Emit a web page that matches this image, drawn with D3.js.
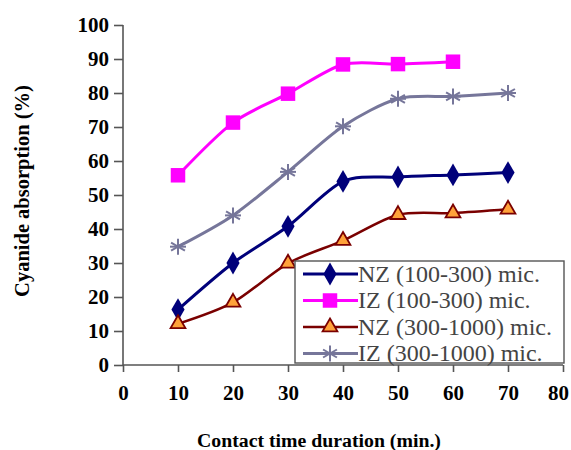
<!DOCTYPE html>
<html>
<head>
<meta charset="utf-8">
<script src="https://cdn.jsdelivr.net/npm/d3@7"></script>
<style>
  body { margin: 0; background: #fff; }
  svg { display: block; }
</style>
</head>
<body>
<svg id="chart" width="571" height="450"></svg>
<script>
// contact time (min.)
var times = [10, 20, 30, 40, 50, 60, 70];
var xTicks = [0, 10, 20, 30, 40, 50, 60, 70, 80];
var yTicks = [0, 10, 20, 30, 40, 50, 60, 70, 80, 90, 100];

var seriesNames = ['NZ (100-300) mic.', 'IZ (100-300) mic.', 'NZ (300-1000) mic.', 'IZ (300-1000) mic.'];
var nzFine = [16.3, 30, 40.8, 54, 55.3, 55.9, 56.6];
var izFine = [55.8, 71.3, 79.8, 88.4, 88.5, 89.2];
var nzCoarse = [12.1, 18.4, 29.9, 36.6, 44.2, 44.7, 45.8];
var izCoarse = [34.8, 44, 56.8, 70.2, 78.3, 79, 80];

var FONT = '"Liberation Serif", "DejaVu Serif", serif';
var W = 571, H = 450;
var margin = { left: 123, top: 25, right: 8, bottom: 85 };

var svg = d3.select('#chart');

var x = d3.scaleLinear().domain([0, 80]).range([margin.left, W - margin.right]);
var y = d3.scaleLinear().domain([0, 100]).range([H - margin.bottom, margin.top]);

var styles = [
  { color: '#00007a', fill: '#00007a', marker: 'diamond', size: 150, width: 3 },
  { color: '#ff00ff', fill: '#ff00ff', marker: 'square', size: 210, width: 3 },
  { color: '#7a0000', fill: '#ffa23a', marker: 'triangle', size: 95, width: 2.5 },
  { color: '#76769a', fill: 'none', marker: 'star', size: 8, width: 3 }
];
var values = [nzFine, izFine, nzCoarse, izCoarse];

// axes
var xAxis = svg.append('g')
  .attr('transform', 'translate(0,' + y(0) + ')')
  .call(d3.axisBottom(x).tickValues(xTicks).tickSize(7).tickPadding(10));
var yAxis = svg.append('g')
  .attr('transform', 'translate(' + x(0) + ',0)')
  .call(d3.axisLeft(y).tickValues(yTicks).tickSize(9).tickPadding(5));

[xAxis, yAxis].forEach(function (a) {
  a.attr('font-family', FONT);
  a.selectAll('path, line').attr('stroke', '#555').attr('stroke-width', 1.6);
  a.selectAll('path').attr('d', a === xAxis
    ? 'M' + x(0) + ',0H' + x(80)
    : 'M0,' + y(0) + 'V' + y(100));
  a.selectAll('text')
    .style('font-family', FONT)
    .attr('font-size', 21).attr('font-weight', 'bold').attr('fill', '#000');
});
xAxis.selectAll('text').attr('dy', '0.85em');
// last label sits a bit inside the edge, as in the original
xAxis.selectAll('.tick').filter(function (d) { return d === 80; })
  .select('text').attr('x', -5);

svg.append('text')
  .attr('transform', 'translate(29,191) rotate(-90)')
  .attr('text-anchor', 'middle')
  .style('font-family', FONT)
  .attr('font-size', 20.5).attr('font-weight', 'bold')
  .text('Cyanide absorption (%)');

svg.append('text')
  .attr('x', 319).attr('y', 447)
  .attr('text-anchor', 'middle')
  .style('font-family', FONT)
  .attr('font-size', 19.8).attr('font-weight', 'bold')
  .text('Contact time duration (min.)');

var line = d3.line()
  .x(function (d) { return x(d[0]); })
  .y(function (d) { return y(d[1]); })
  .curve(d3.curveCardinal.tension(0.15));

function drawMarker(g, st, px, py) {
  if (st.marker === 'star') {
    var r = st.size;
    [0, 60, 120].forEach(function (a) {
      var rad = a * Math.PI / 180;
      g.append('line')
        .attr('x1', px - r * Math.sin(rad)).attr('y1', py - r * Math.cos(rad))
        .attr('x2', px + r * Math.sin(rad)).attr('y2', py + r * Math.cos(rad))
        .attr('stroke', st.color).attr('stroke-width', 2);
    });
    g.append('line')
      .attr('x1', px - r).attr('y1', py).attr('x2', px + r).attr('y2', py)
      .attr('stroke', st.color).attr('stroke-width', 2);
    return;
  }
  var sym = { diamond: d3.symbolDiamond, square: d3.symbolSquare, triangle: d3.symbolTriangle }[st.marker];
  g.append('path')
    .attr('d', d3.symbol().type(sym).size(st.size)())
    .attr('transform', 'translate(' + px + ',' + py + ')')
    .attr('fill', st.fill)
    .attr('stroke', st.color)
    .attr('stroke-width', st.marker === 'triangle' ? 1.8 : 0);
}

values.forEach(function (vals, i) {
  var st = styles[i];
  var pts = vals.map(function (v, j) { return [times[j], v]; });
  var g = svg.append('g');
  g.append('path')
    .attr('d', line(pts))
    .attr('fill', 'none')
    .attr('stroke', st.color)
    .attr('stroke-width', st.width);
  pts.forEach(function (p) { drawMarker(g, st, x(p[0]), y(p[1])); });
});

// legend
var lg = svg.append('g');
lg.append('rect')
  .attr('x', 295).attr('y', 261).attr('width', 269).attr('height', 102)
  .attr('fill', '#fff').attr('stroke', '#555').attr('stroke-width', 1.4);
seriesNames.forEach(function (name, i) {
  var st = styles[i];
  var yy = 274 + i * 26.5;
  lg.append('line')
    .attr('x1', 303).attr('x2', 358).attr('y1', yy).attr('y2', yy)
    .attr('stroke', st.color).attr('stroke-width', st.width);
  drawMarker(lg, st, 330, yy);
  lg.append('text')
    .attr('x', 358).attr('y', yy + 7.5)
    .style('font-family', FONT)
    .attr('font-size', 24).attr('fill', '#444')
    .text(name);
});
</script>
</body>
</html>
